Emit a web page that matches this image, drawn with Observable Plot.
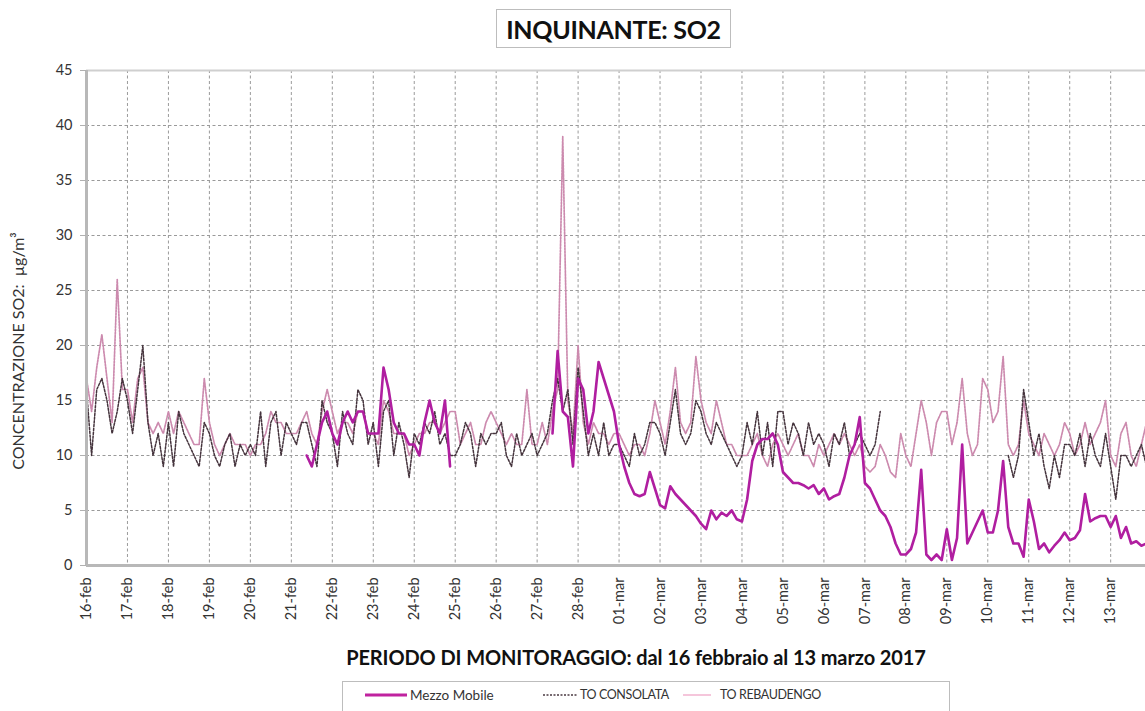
<!DOCTYPE html>
<html><head><meta charset="utf-8">
<script src="https://cdn.jsdelivr.net/npm/d3@7"></script>
<script src="https://cdn.jsdelivr.net/npm/@observablehq/plot@0.6"></script>
<style>
body{margin:0;background:#fff;font-family:Lato,"Open Sans",sans-serif;width:1145px;height:711px;overflow:hidden;position:relative}
#title{position:absolute;left:496px;top:9px;width:235px;height:39px;border:1.5px solid #bdbdbd;box-sizing:border-box;display:flex;align-items:center;justify-content:center;font-weight:bold;font-size:25px;color:#111;letter-spacing:-0.3px}
#chart{position:absolute;left:0;top:60px}
#xtitle{position:absolute;left:300px;width:672px;top:645px;text-align:center;font-weight:bold;font-size:20px;color:#111;letter-spacing:-0.1px}
#legend{position:absolute;left:342px;top:681px;width:608px;height:40px;border:1px solid #bdbdbd;box-sizing:border-box;font-size:13.5px;color:#333}
#legend .it{position:absolute;top:5px;display:flex;align-items:center;white-space:nowrap}
#legend .caps{font-size:12.5px;letter-spacing:-0.4px}
#legend svg{margin-right:3px}
</style></head>
<body>
<div id="title">INQUINANTE: SO2</div>
<div id="chart"></div>
<div id="xtitle">PERIODO DI MONITORAGGIO: dal 16 febbraio al 13 marzo 2017</div>
<div id="legend">
  <div class="it" style="left:22px"><svg width="42" height="6"><line x1="0" y1="3" x2="42" y2="3" stroke="#c0229f" stroke-width="3"/></svg>Mezzo Mobile</div>
  <div class="it caps" style="left:200px"><svg width="34" height="6"><line x1="0" y1="3" x2="34" y2="3" stroke="#4a3a42" stroke-width="1.3" stroke-dasharray="2,1.5"/></svg>TO CONSOLATA</div>
  <div class="it caps" style="left:340px"><svg width="34" height="6"><line x1="0" y1="3" x2="28" y2="3" stroke="#f0a8c8" stroke-width="1.3"/></svg>TO REBAUDENGO</div>
</div>
<script>
// series names
const seriesNames = ["Mezzo Mobile", "TO CONSOLATA", "TO REBAUDENGO"];
// 3-hourly values from 16-feb 00:00 (8 per day)
const N = null;
const consolata = [
16,10,16,17,15,12,14,17,
15,12,16,20,13,10,12,9,
13,9,14,12,11,10,9,13,
12,10,9,11,12,9,11,10,
11,10,14,9,13,14,10,13,
12,11,13,13,11,9,15,13,
12,9,14,12,11,16,15,11,
13,9,14,15,10,13,11,8,
12,11,13,12,14,11,12,10,
10,11,13,12,9,12,11,12,
12,13,10,9,12,10,11,12,
10,11,12,15,17,14,16,11,
18,14,10,12,10,13,10,11,
11,10,9,12,10,11,13,13,
12,10,13,16,12,11,12,15,
14,12,11,13,12,11,10,9,
10,13,11,14,10,13,9,14,
14,11,13,12,10,13,11,12,
11,9,12,11,13,10,11,12,
11,10,11,14,N,N,N,N,
N,N,N,N,N,N,N,N,
N,N,N,N,N,N,N,N,
N,N,N,N,10,8,10,16,
13,10,12,9,7,10,8,11,
11,10,12,9,12,10,9,12,
9,6,10,10,9,10,11,9
];
const rebaudengo = [
17,14,18,21,17,13,26,16,
16,13,17,18,13,12,13,12,
14,12,14,13,12,11,11,17,
13,11,10,11,12,11,11,11,
10,11,11,12,14,13,13,12,
12,12,13,14,12,11,14,16,
14,12,13,13,12,14,14,12,
12,11,15,14,12,12,12,10,
11,12,12,13,13,12,13,14,
14,11,12,13,11,11,13,14,
13,12,11,12,11,11,16,11,
11,13,11,14,16,39,15,12,
20,13,11,13,12,12,11,12,
12,11,10,11,11,10,12,15,
13,11,14,18,13,12,13,19,
15,13,12,15,13,11,11,10,
10,10,11,12,10,9,11,12,
11,10,11,12,10,10,9,11,
10,11,12,11,12,11,10,11,
9,8.5,9,11,10,8.5,8,12,
10,9,12,15,13,10,13,14,
14,11,13,17,12,10,11,17,
16,13,14,19,11,10,11,15,
12,11,10,12,11,10,11,13,
12,10,11,13,11,12,13,15,
10,9,12,13,10,9,11,13
];
const mezzoMobile = [
N,N,N,N,N,N,N,N,
N,N,N,N,N,N,N,N,
N,N,N,N,N,N,N,N,
N,N,N,N,N,N,N,N,
N,N,N,N,N,N,N,N,
N,N,N,10,9,11,13,14,
12,11,13,14,13,14,14,12,
12,12,18,16,13,12,12,11,
11,10,13,15,13,12,15,9,
N,N,N,N,N,N,N,N,
N,N,N,N,N,N,N,N,
N,N,N,12,19.5,14,13.5,9,
17,16,12,14,18.5,17,15.5,14,
11,9,7.5,6.5,6.3,6.5,8.5,7,
5.5,5.2,7.2,6.5,6,5.5,5,4.5,
3.8,3.3,5,4.2,4.8,4.5,5,4.2,
4,6,9.5,11,11.5,11.5,12,11,
8.5,8,7.5,7.5,7.3,7,7.3,6.5,
7,6,6.3,6.5,8,10,11,13.5,
7.5,7,6,5,4.5,3.5,2,1,
1,1.5,3,8.7,1,0.5,1,0.5,
3.3,0.5,2.5,11,2,3,4,5,
3,3,5,9.5,3.5,2,2,0.8,
6,4,1.5,2,1.2,1.8,2.3,3,
2.3,2.5,3.2,6.5,4,4.3,4.5,4.5,
3.5,4.5,2.5,3.5,2,2.2,1.8,2
];
const tickLabels = ["16-feb","17-feb","18-feb","19-feb","20-feb","21-feb","22-feb","23-feb","24-feb","25-feb","26-feb","27-feb","28-feb","01-mar","02-mar","03-mar","04-mar","05-mar","06-mar","07-mar","08-mar","09-mar","10-mar","11-mar","12-mar","13-mar"];
const yTicks = [0,5,10,15,20,25,30,35,40,45];
const yLabel = "CONCENTRAZIONE SO2:  \u00b5g/m\u00b3";

const start = new Date(Date.UTC(2017,1,16));
const end = new Date(+start + 25.85*864e5);
const step = 3*3600*1000;
const toRows = (arr) => arr.map((v,i) => ({t: new Date(+start + i*step), v}));
const dayTicks = tickLabels.map((_,i) => d3.utcDay.offset(start, i));
const labelMap = new Map(dayTicks.map((d,i) => [+d, tickLabels[i]]));

const chart = Plot.plot({
  width: 1145, height: 580,
  marginLeft: 86, marginRight: 0, marginTop: 10, marginBottom: 75,
  style: {fontFamily: "Lato, 'Open Sans', sans-serif", fontSize: "14px", color: "#333", background: "#fff"},
  x: {type: "utc", domain: [start, end]},
  y: {domain: [0,45]},
  marks: [
    Plot.gridX(dayTicks, {stroke: "#9a9a9a", strokeOpacity: 1, strokeDasharray: "3,2.5", strokeWidth: 1}),
    Plot.gridY(yTicks, {stroke: "#9a9a9a", strokeOpacity: 1, strokeDasharray: "3,2.5", strokeWidth: 1}),
    Plot.ruleY([45], {stroke: "#cfcfcf", strokeWidth: 2}),
    Plot.line(toRows(rebaudengo), {x: "t", y: "v", stroke: "#cc8aae", strokeWidth: 1.7, strokeDasharray: "2,1.2", clip: true}),
    Plot.line(toRows(consolata), {x: "t", y: "v", stroke: "#45343d", strokeWidth: 1.5, strokeDasharray: "2.2,1.6", clip: true}),
    Plot.line(toRows(mezzoMobile), {x: "t", y: "v", stroke: "#b01ea0", strokeWidth: 2.6, clip: true}),
    Plot.ruleX([start], {stroke: "#b8b8b8", strokeWidth: 3}),
    Plot.ruleY([0], {stroke: "#b8b8b8", strokeWidth: 3}),
    Plot.axisY(yTicks, {tickSize: 6, tickPadding: 8, stroke: "#b0b0b0", fill: "#333", fontSize: 14.5, label: null}),
    Plot.axisX(dayTicks, {tickFormat: d => labelMap.get(+d), tickRotate: -90, tickSize: 0, tickPadding: 12, fill: "#333", fontSize: 14.5, label: null}),
    Plot.text([yLabel], {frameAnchor: "left", text: d => d, textAnchor: "middle", rotate: -90, dx: -68, dy: 33, fontSize: 16, fill: "#333"})
  ]
});
document.getElementById("chart").appendChild(chart);
</script>
</body></html>
